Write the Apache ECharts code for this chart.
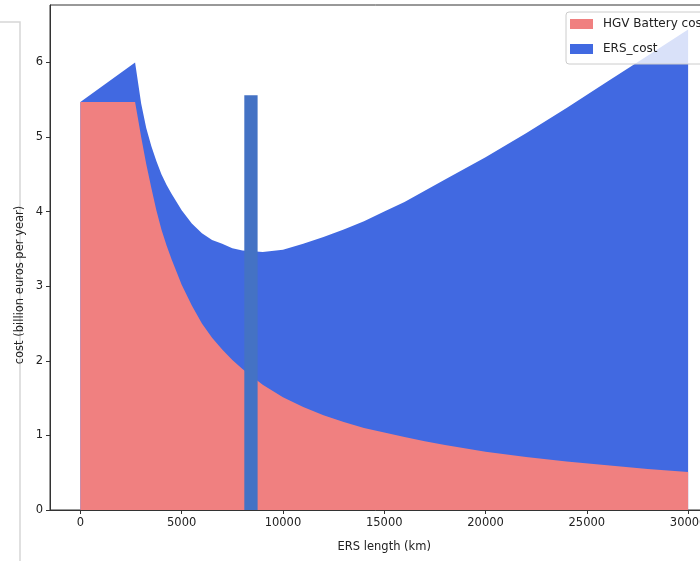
<!DOCTYPE html>
<html>
<head>
<meta charset="utf-8">
<script src="https://cdn.jsdelivr.net/npm/echarts@6/dist/echarts.min.js"></script>
<style>html,body{margin:0;padding:0;background:#fff}#c{width:700px;height:561px}</style>
</head>
<body>
<div id="c"></div>
<script>
const distanceKm = [0,2700,3000,3250,3500,3750,4000,4250,4500,5000,5500,6000,6500,7000,7500,8000,9000,10000,11000,12000,13000,14000,15000,16000,17000,18000,20000,22000,24000,26000,28000,30000];
const batteryCost = [5.47,5.47,5.00,4.64,4.32,4.02,3.76,3.55,3.36,3.02,2.74,2.50,2.31,2.15,2.01,1.89,1.68,1.51,1.38,1.27,1.18,1.10,1.04,0.98,0.92,0.87,0.78,0.71,0.65,0.60,0.55,0.51];
const ersCost = [0,0.53,0.45,0.48,0.56,0.66,0.74,0.81,0.88,1.00,1.10,1.21,1.31,1.42,1.50,1.59,1.78,1.98,2.19,2.39,2.58,2.77,2.96,3.15,3.36,3.56,3.95,4.34,4.74,5.14,5.54,5.93];
const markerX = [8420, 8420];
const markerY = [0, 5.56];
const xTicks = [0,5000,10000,15000,20000,25000,30000];
const yTicks = [0,1,2,3,4,5,6];

const FONT = 'DejaVu Sans';
// stacked top of the ERS band = battery + ERS
const ersTop = distanceKm.map((d, i) => [d, batteryCost[i] + ersCost[i]]);
const chart = echarts.init(document.getElementById('c'));
chart.setOption({
  animation: false,
  backgroundColor: '#fff',
  grid: {left: 50, top: 5, width: 668.5, height: 505, outerBoundsMode: 'none', containLabel: false, show: true, borderColor: '#333', borderWidth: 1, backgroundColor: 'transparent'},
  legend: {
    orient: 'vertical', left: 566, top: 12,
    itemWidth: 23, itemHeight: 10, itemGap: 13,
    padding: [6, 8, 9, 4],
    backgroundColor: 'rgba(255,255,255,0.8)',
    borderColor: '#cccccc', borderWidth: 1, borderRadius: 3,
    textStyle: {fontFamily: FONT, fontSize: 12, color: '#222', padding: [0,0,0,5]},
    itemStyle: {borderWidth: 0},
    data: [{name: 'HGV Battery cost', icon: 'rect'}, {name: 'ERS_cost', icon: 'rect'}],
    z: 20
  },
  xAxis: {
    type: 'value', min: -1500, max: 31500,
    name: 'ERS length (km)', nameLocation: 'middle', nameGap: 31,
    nameTextStyle: {fontFamily: FONT, fontSize: 11.5, color: '#222'},
    axisLine: {show: true, onZero: false, lineStyle: {color: '#333', width: 1}},
    axisTick: {show: true, customValues: xTicks, length: 4, lineStyle: {color: '#333'}},
    axisLabel: {customValues: xTicks, margin: 7, fontFamily: FONT, fontSize: 11.5, color: '#222', formatter: v => String(v)},
    splitLine: {show: false}
  },
  yAxis: {
    type: 'value', min: 0, max: 6.77,
    axisLine: {show: true, onZero: false, lineStyle: {color: '#333', width: 1}},
    axisTick: {show: true, customValues: yTicks, length: 4, lineStyle: {color: '#333'}},
    axisLabel: {customValues: yTicks, margin: 7, fontFamily: FONT, fontSize: 11.5, color: '#222', formatter: v => String(v)},
    splitLine: {show: false}
  },
  graphic: [
    {type: 'polyline', shape: {points: [[0, 22], [20, 22], [20, 561]]}, style: {stroke: '#d6d6d6', lineWidth: 1.5, fill: null}, silent: true, z: 0},
    {type: 'text', x: 20, y: 285, rotation: Math.PI / 2,
     style: {text: 'cost (billion euros per year)', fontFamily: FONT, fontSize: 11.5, fill: '#222', textAlign: 'center', textVerticalAlign: 'middle'}}
  ],
  series: [
    {
      name: 'ERS_cost', type: 'line',
      data: ersTop,
      symbol: 'none', lineStyle: {width: 0, color: '#4169E1'},
      itemStyle: {color: '#4169E1'},
      areaStyle: {color: '#4169E1', opacity: 1, origin: 'start'}, z: 1
    },
    {
      name: 'HGV Battery cost', type: 'line',
      data: distanceKm.map((d, i) => [d, batteryCost[i]]),
      symbol: 'none', lineStyle: {width: 0, color: '#F08080'},
      itemStyle: {color: '#F08080'},
      areaStyle: {color: '#F08080', opacity: 1, origin: 'start'}, z: 2
    },
    {
      name: 'marker', type: 'line',
      data: markerX.map((x, i) => [x, markerY[i]]),
      symbol: 'none', lineStyle: {width: 13.3, color: '#4472C4', cap: 'butt'},
      z: 5
    }
  ]
});
</script>
</body>
</html>
